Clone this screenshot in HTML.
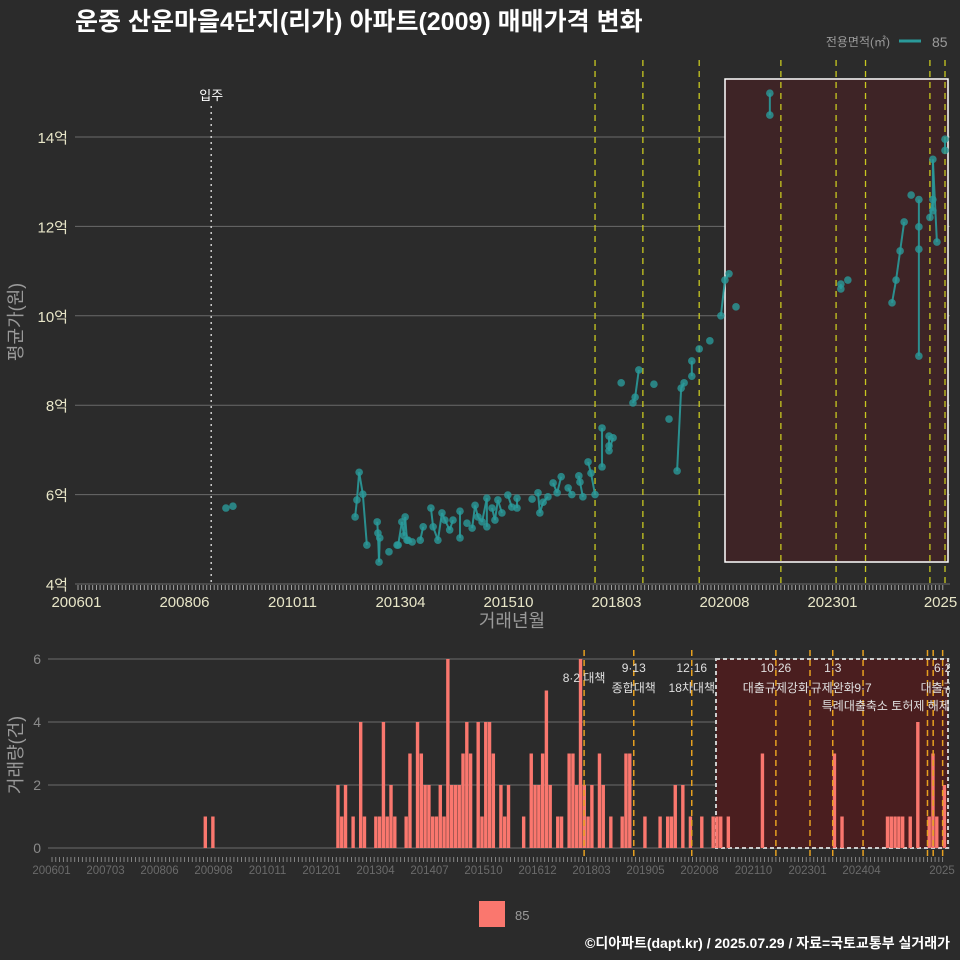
<!DOCTYPE html>
<html><head><meta charset="utf-8">
<style>
html,body{margin:0;padding:0;background:#2b2b2b;}
svg{display:block;font-family:"Liberation Sans","Noto Sans CJK KR",sans-serif;}
</style></head>
<body>
<svg id="chart" width="960" height="960" viewBox="0 0 960 960" xmlns="http://www.w3.org/2000/svg">
<rect x="0" y="0" width="960" height="960" fill="#2b2b2b"/>
<text x="75" y="30" fill="#ffffff" font-size="25" font-weight="bold">운중 산운마을4단지(리가) 아파트(2009) 매매가격 변화</text>
<g>
<text x="890" y="46" fill="#9a9a9a" font-size="12" text-anchor="end">전용면적(㎡)</text>
<line x1="899" y1="41" x2="921" y2="41" stroke="#2a9a9a" stroke-width="3"/>
<text x="932" y="47" fill="#9a9a9a" font-size="14">85</text>
</g>
<g id="topPanel"></g>
<g id="botPanel"></g>
<g>
<rect x="479" y="901" width="26" height="26" fill="#fa776e"/>
<text x="515" y="920" fill="#9a9a9a" font-size="13">85</text>
</g>
<text x="950" y="948" fill="#ffffff" font-size="14" font-weight="bold" text-anchor="end">©디아파트(dapt.kr) / 2025.07.29 / 자료=국토교통부 실거래가</text>
</svg>
<script>
// ---- data ----
const topYTicks = [4, 6, 8, 10, 12, 14];
const topXLabels = ["200601","200806","201011","201304","201510","201803","202008","202301","2025"];
const botXLabels = ["200601","200703","200806","200908","201011","201201","201304","201407","201510","201612","201803","201905","202008","202110","202301","202404","2025"];
const botYTicks = [0, 2, 4, 6];
// months since 2006-01
const tradeMonths = [40.2,42.1,75.3,75.8,76.4,77.4,78.5,81.3,81.5,82.0,81.8,84.5,86.7,87.0,88.0,88.6,88.9,89.4,89.7,90.8,93.0,93.8,95.9,96.5,97.8,98.9,99.7,101.0,101.9,103.8,103.8,105.7,107.1,107.9,108.7,109.8,111.1,111.1,112.5,113.3,114.1,115.2,116.8,117.9,119.3,119.3,123.4,125.0,125.5,126.4,127.7,129.1,130.2,131.3,133.2,134.2,136.1,136.4,137.2,138.6,139.4,140.5,142.4,142.4,144.3,145.4,144.3,144.3,147.6,150.8,151.4,152.4,156.5,160.6,162.8,163.9,164.7,166.8,166.8,168.8,171.7,174.7,175.8,176.9,178.8,188,188,207.3,207.3,209.2,221.2,222.3,223.4,224.5,226.4,228.5,228.5,228.5,228.5,231.5,232.3,232.3,233.4,232.3,235.6,235.6];
const tradePrices = [5.70,5.74,5.50,5.88,6.50,6.01,4.87,5.39,5.14,5.03,4.49,4.72,4.87,4.87,5.39,5.08,5.50,4.98,4.98,4.94,4.98,5.28,5.70,5.28,4.98,5.59,5.43,5.21,5.43,5.63,5.03,5.36,5.25,5.76,5.50,5.39,5.92,5.28,5.70,5.43,5.88,5.59,5.99,5.72,5.92,5.70,5.90,6.04,5.59,5.83,5.95,6.26,6.04,6.40,6.15,6.00,6.42,6.28,5.95,6.73,6.48,6.00,6.62,7.49,7.31,7.27,7.09,6.98,8.50,8.05,8.18,8.79,8.47,7.69,6.53,8.38,8.50,8.65,8.99,9.26,9.44,10.0,10.8,10.94,10.2,14.98,14.49,10.71,10.6,10.8,10.29,10.8,11.45,12.1,12.7,12.6,11.99,11.49,9.1,12.2,12.6,12.35,11.65,13.5,13.95,13.7];
const volMonths = [40,42,75,76,77,79,81,82,85,86,87,88,89,90,93,94,96,97,98,99,100,101,102,103,104,105,106,107,108,109,110,112,113,114,115,116,118,119,120,124,126,127,128,129,130,131,133,134,136,137,138,139,140,141,142,144,145,147,150,151,152,156,160,162,163,164,166,168,171,174,175,176,178,187,206,208,220,221,222,223,224,226,228,231,232,233,235];
const volCounts = [1,1,2,1,2,1,4,1,1,1,4,1,2,1,1,3,4,3,2,2,1,1,2,1,6,2,2,2,3,4,3,4,1,4,4,3,2,1,2,1,3,2,2,3,5,2,1,1,3,3,2,6,2,1,2,3,2,1,1,3,3,1,1,1,1,2,2,1,1,1,1,1,1,3,3,1,1,1,1,1,1,1,4,1,3,1,2];
const policyTopMonths = [140.5,153.5,168.8,191,206,214,231.5,235.6];
const policyBotMonths = [140.4,153.5,168.8,191,200,206,214,231,232.5,235];
const policyLabels = [
 {m:140.4,l1:"",l2:"8·2 대책",dy:0},{m:153.5,l1:"9·13",l2:"종합대책",dy:0},{m:168.8,l1:"12·16",l2:"18차대책",dy:0},
 {m:191,l1:"10·26",l2:"대출규제강화",dy:0},{m:206,l1:"1·3",l2:"규제완화",dy:0},{m:214,l1:"",l2:"9·7",dy:0},
 {m:220,l1:"",l2:"특례대출축소 토허제 해제",dy:18},{m:235,l1:"6·2",l2:"대출규제",dy:0}];
const moveInMonth = 36.2;

// ---- scales ----
const NS="http://www.w3.org/2000/svg";
const tx = m => 78 + 3.68*m;
const ty = v => 584 - (v-4)*44.7;
const bx = m => 52 + 3.79*m;
const by = c => 848 - c*31.5;
function mk(parent, tag, attrs, text){
  const e=document.createElementNS(NS,tag);
  for(const k in attrs) e.setAttribute(k,attrs[k]);
  if(text!==undefined) e.textContent=text;
  parent.appendChild(e); return e;
}
const topG=document.getElementById('topPanel'), botG=document.getElementById('botPanel');
const defs=mk(document.getElementById('chart'),'defs',{});
const cp=mk(defs,'clipPath',{id:'bclip'}); mk(cp,'rect',{x:48,y:640,width:902,height:220});
const cp2=mk(defs,'clipPath',{id:'bclip2'}); mk(cp2,'rect',{x:0,y:860,width:955,height:20});

// ---- top panel ----
topYTicks.forEach(v=>{
  const g=mk(topG,'line',{x1:75,x2:950,y1:ty(v),y2:ty(v),stroke:'#6b6b6b','stroke-width':1});
  
  
  const t=mk(topG,'text',{x:68,y:ty(v)+6,fill:'#e8e6c8','font-size':15,'text-anchor':'end'},v+'억');
  
  
});
const box=mk(topG,'rect',{x:725,y:79,width:223,height:483,fill:'#3e2426',stroke:'#ffffff','stroke-width':1.5});


for(let m=0;m<=235;m++){
  const tk=mk(topG,'line',{x1:tx(m),x2:tx(m),y1:585,y2:590,stroke:'#bbbbbb','stroke-width':0.8});
  
  
}
const mi=mk(topG,'line',{x1:tx(moveInMonth),x2:tx(moveInMonth),y1:106,y2:584,stroke:'#cccccc','stroke-dasharray':'2,4','stroke-width':1.5});


const mit=mk(topG,'text',{x:tx(moveInMonth),y:100,fill:'#ffffff','font-size':13,'text-anchor':'middle'},'입주');


policyTopMonths.forEach(m=>{
  const l=mk(topG,'line',{x1:tx(m),x2:tx(m),y1:60,y2:584,stroke:'#c8c820','stroke-dasharray':'6,5','stroke-width':1.3});
  
  
});
topXLabels.forEach((s,i)=>{
  const t=mk(topG,'text',{x:76.5+108*i,y:607,fill:'#e8e6c8','font-size':15,'text-anchor':'middle'},s);
  
  
});
const xt=mk(topG,'text',{x:512,y:627,fill:'#9a9a9a','font-size':18,'text-anchor':'middle'},'거래년월');


const yt=mk(topG,'text',{x:0,y:0,fill:'#9a9a9a','font-size':18,'text-anchor':'middle',transform:'translate(22,322) rotate(-90)'},'평균가(원)');


const idx=tradeMonths.map((m,i)=>i).sort((a,b)=>tradeMonths[a]-tradeMonths[b]);
for(let k=1;k<idx.length;k++){
  const a=idx[k-1],b=idx[k];
  if(tradeMonths[b]-tradeMonths[a]<=1.3){
    const l=mk(topG,'line',{x1:tx(tradeMonths[a]),y1:ty(tradePrices[a]),x2:tx(tradeMonths[b]),y2:ty(tradePrices[b]),stroke:'#2a9a9a','stroke-width':2,'stroke-opacity':0.9});
    
    
  }
}
tradeMonths.forEach((m,i)=>{
  const c=mk(topG,'circle',{cx:tx(m),cy:ty(tradePrices[i]),r:3.8,fill:'#2a9a9a','fill-opacity':0.8});
  
  
});

// ---- bottom panel ----
botYTicks.forEach(v=>{
  const g=mk(botG,'line',{x1:48,x2:950,y1:by(v),y2:by(v),stroke:'#6b6b6b','stroke-width':1});
  
  
  const t=mk(botG,'text',{x:41,y:by(v)+5,fill:'#8a8a8a','font-size':14,'text-anchor':'end'},String(v));
  
  
});
const bbox=mk(botG,'rect',{x:716,y:659,width:232,height:189,fill:'#4a1e1f','stroke':'#cccccc','stroke-dasharray':'4,3','stroke-width':2});


volMonths.forEach((m,i)=>{
  const r=mk(botG,'rect',{x:bx(m),y:by(volCounts[i]),width:3.4,height:volCounts[i]*31.5,fill:'#fa776e'});
  
  
});
policyBotMonths.forEach(m=>{
  const l=mk(botG,'line',{x1:bx(m),x2:bx(m),y1:650,y2:858,stroke:'#e6a020','stroke-dasharray':'6,4','stroke-width':1.5});
  
  
});
const lg=mk(botG,'g',{'clip-path':'url(#bclip)'});
policyLabels.forEach(p=>{
  if(p.l1){const t=mk(lg,'text',{x:bx(p.m),y:672+p.dy,fill:'#e0e0e0','font-size':12,'text-anchor':'middle'},p.l1);
  
  }
  const t2=mk(lg,'text',{x:bx(p.m),y:(p.l1?692:(p.m<150?682:692))+p.dy,fill:'#e0e0e0','font-size':12,'text-anchor':'middle'},p.l2);
  
  
});
for(let m=0;m<=235;m++){
  const tk=mk(botG,'line',{x1:bx(m),x2:bx(m),y1:857,y2:862,stroke:'#999999','stroke-width':0.8});
  
  
}
const lg2=mk(botG,'g',{'clip-path':'url(#bclip2)'});
botXLabels.forEach((s,i)=>{
  const t=mk(lg2,'text',{x:(i===botXLabels.length-1)?942:51.5+54*i,y:874,fill:'#6a6a6a','font-size':11.5,'text-anchor':'middle'},s);
  
  
});
const byt=mk(botG,'text',{x:0,y:0,fill:'#9a9a9a','font-size':18,'text-anchor':'middle',transform:'translate(22,755) rotate(-90)'},'거래량(건)');


</script>
</body></html>
